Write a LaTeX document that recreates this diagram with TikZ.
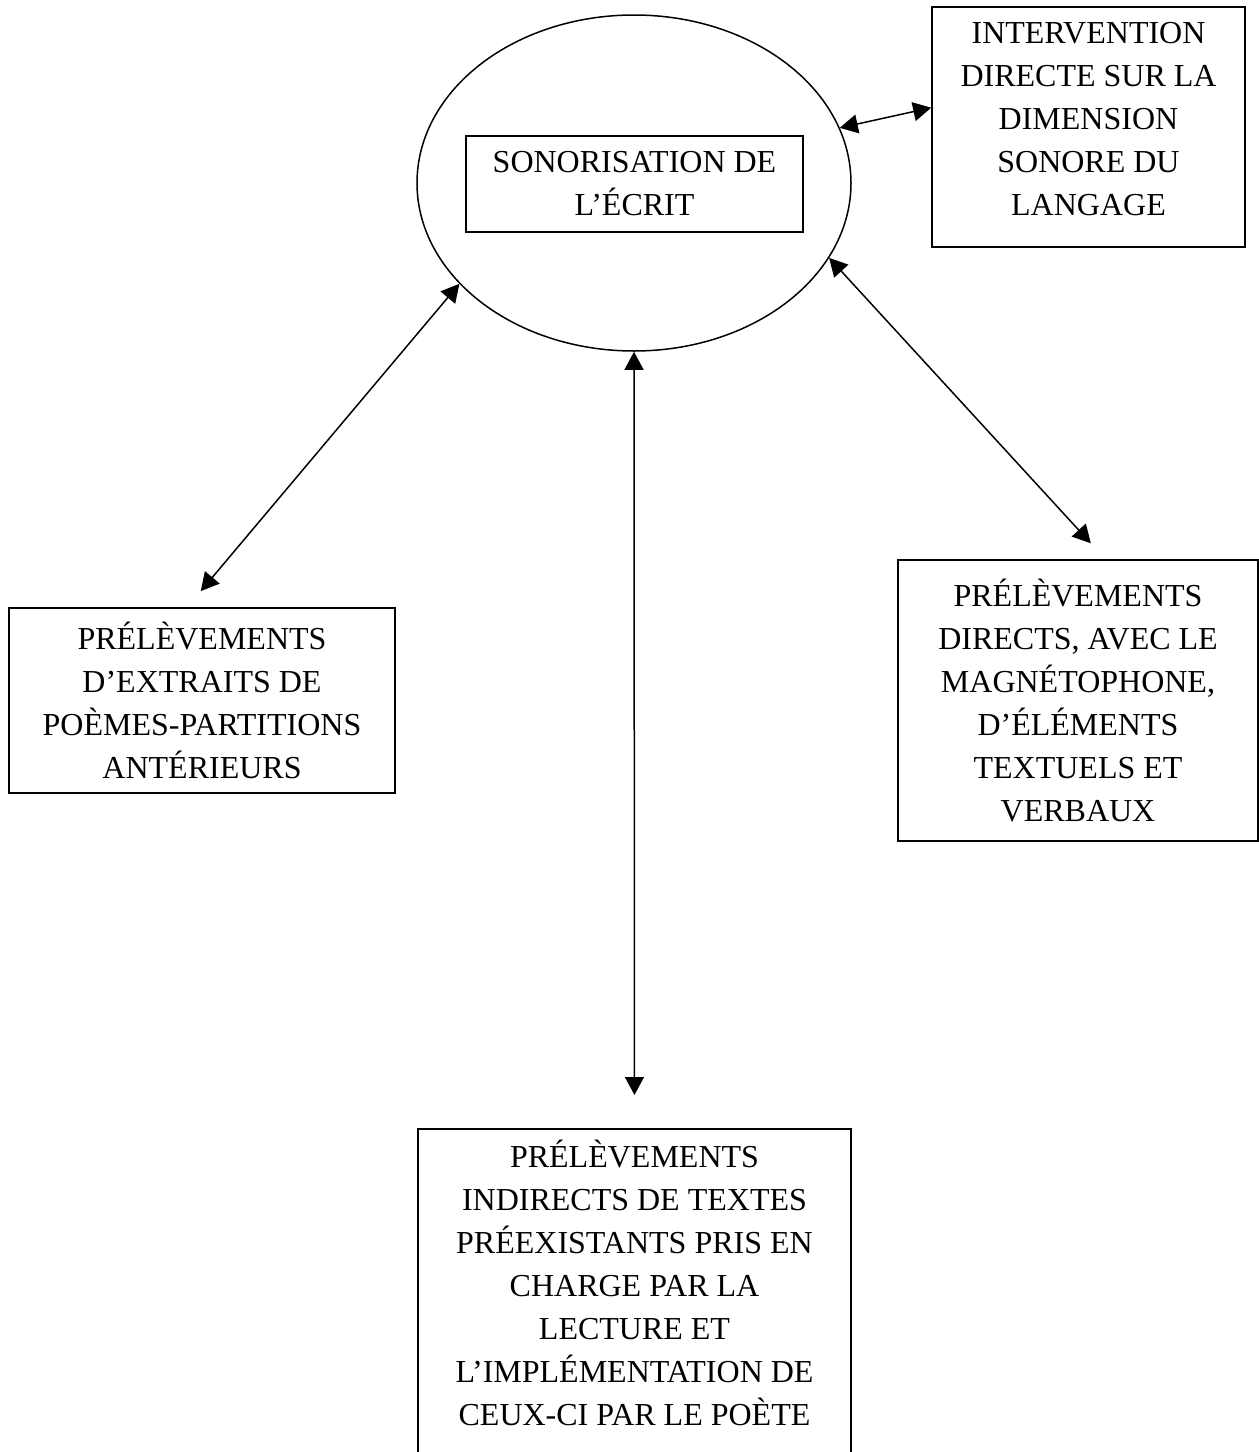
\documentclass[tikz,border=0pt]{standalone}
\usepackage{fontspec}
\setmainfont{Liberation Serif}
\usetikzlibrary{shapes,arrows.meta}

\tikzset{
  boite/.style={draw, line width=0.8pt, align=center, inner sep=0pt, font=\fontsize{16}{21.5}\selectfont},
  fleche/.style={{Triangle[length=9pt,width=9.5pt]}-{Triangle[length=9pt,width=9.5pt]}, line width=0.75pt}
}

\begin{document}
\begin{tikzpicture}[x=0.5pt,y=-0.5pt]
\useasboundingbox (0,0) rectangle (1259,1452);
\clip (0,0) rectangle (1259,1452);
\node[ellipse, draw, line width=0.75pt, minimum width=217pt, minimum height=168pt, inner sep=0pt](sono) at (634,183) {};
\node[boite, minimum width=168.5pt, minimum height=48pt](ecrit) at (634.5,184) {SONORISATION DE\\L’ÉCRIT};
\node[boite, minimum width=156.5pt, minimum height=120pt](interv) at (1088.5,127) {INTERVENTION\\DIRECTE SUR LA\\DIMENSION\\SONORE DU\\LANGAGE\\[-13.5pt]};
\node[boite, minimum width=193pt, minimum height=92.5pt](extraits) at (202,700.5) {PRÉLÈVEMENTS\\D’EXTRAITS DE\\POÈMES-PARTITIONS\\ANTÉRIEURS};
\node[boite, minimum width=180pt, minimum height=140.5pt](directs) at (1078,700.5) {PRÉLÈVEMENTS\\DIRECTS, AVEC LE\\MAGNÉTOPHONE,\\D’ÉLÉMENTS\\TEXTUELS ET\\VERBAUX};
\node[boite, minimum width=216.5pt, anchor=north, inner ysep=5.7pt](indirects) at (634.5,1128) {PRÉLÈVEMENTS\\INDIRECTS DE TEXTES\\PRÉEXISTANTS PRIS EN\\CHARGE PAR LA\\LECTURE ET\\L’IMPLÉMENTATION DE\\CEUX-CI PAR LE POÈTE\\[40pt]};
\draw[fleche](sono.15) -- (interv.173);
\draw[fleche, shorten >=10.5pt](sono.210) -- (extraits.99);
\draw[fleche, shorten >=10.8pt](sono.-21) -- (directs.79);
\draw[fleche, shorten >=16.5pt](sono.south) -- (indirects.north);
\end{tikzpicture}
\end{document}
